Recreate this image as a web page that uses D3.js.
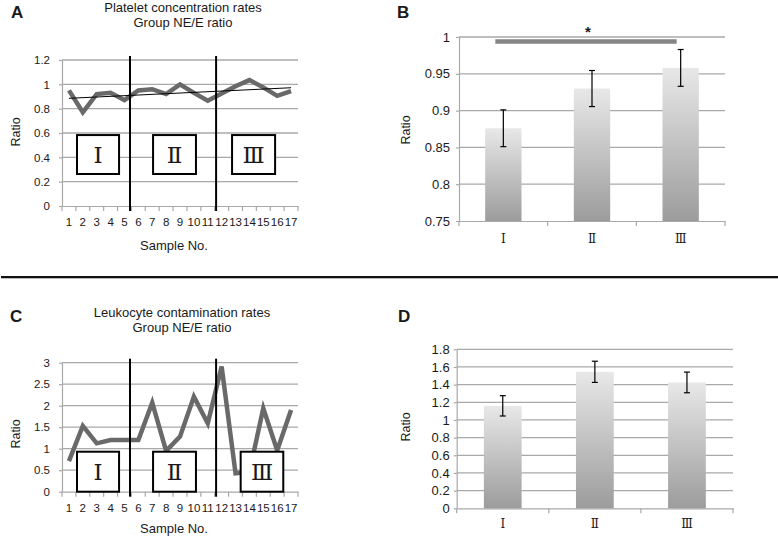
<!DOCTYPE html>
<html><head><meta charset="utf-8">
<script src="https://cdn.jsdelivr.net/npm/d3@7"></script>
<style>
body{margin:0;background:#fff}
svg{display:block}
text{font-family:"Liberation Sans",Arial,Helvetica,sans-serif;fill:#1a1a1a}
.num{font-family:"DejaVu Serif","Liberation Serif",serif}
</style>
</head><body>
<svg id="chart" width="778" height="537"></svg>
<script>
// ---------- DATA ----------
const sampleLabels = ["1","2","3","4","5","6","7","8","9","10","11","12","13","14","15","16","17"];
const plateletRatio = [0.95,0.77,0.92,0.93,0.87,0.95,0.96,0.92,1.00,0.93,0.865,0.925,0.985,1.035,0.975,0.905,0.945];
const plateletTrend = [0.885, 0.972];          // trend line value at sample 1 and sample 17
const leukocyteRatio = [0.71,1.53,1.125,1.20,1.20,1.20,2.07,0.95,1.28,2.21,1.59,2.91,0.43,0.46,1.94,0.96,1.90];
const groupLabels = ["Ⅰ","Ⅱ","Ⅲ"];
const groupDividers = [5.4, 11.6];             // between samples 5|6 and 11|12
const plateletMeans = [0.876, 0.930, 0.958];
const plateletErr   = [0.025, 0.0245, 0.025];
const leukocyteMeans = [1.16, 1.545, 1.425];
const leukocyteErr   = [0.115, 0.12, 0.117];
const ticksA = [0,0.2,0.4,0.6,0.8,1,1.2];
const ticksB = [0.75,0.8,0.85,0.9,0.95,1];
const ticksC = [0,0.5,1,1.5,2,2.5,3];
const ticksD = [0,0.2,0.4,0.6,0.8,1,1.2,1.4,1.6,1.8];
const sigLevel = 0.994, sigLabel = "*";

// ---------- STYLE ----------
const GRID = "#a9a9a9", LINE = "#696969";
const svg = d3.select("#chart");

const defs = svg.append("defs");
const grad = defs.append("linearGradient").attr("id","barGrad").attr("x1",0).attr("y1",0).attr("x2",0).attr("y2",1);
grad.append("stop").attr("offset","0%").attr("stop-color","#e8e8e8");
grad.append("stop").attr("offset","100%").attr("stop-color","#9c9c9c");

function letter(t,x,y){
  svg.append("text").attr("x",x).attr("y",y).attr("font-size",17).attr("font-weight","bold").text(t);
}
function ratioLabel(x,y){
  svg.append("text").attr("transform",`translate(${x},${y}) rotate(-90)`).attr("text-anchor","middle")
    .attr("dy","0.35em").attr("font-size",12.5).text("Ratio");
}
function styleAxis(g){
  g.select(".domain").attr("stroke",GRID).attr("stroke-width",1.2);
  g.selectAll(".tick line").attr("stroke",GRID).attr("stroke-width",1.2);
  g.selectAll("text").attr("fill","#1a1a1a");
}

// ---------- LINE PANEL ----------
function linePanel(o){
  const xb = d3.scaleBand().domain(sampleLabels).range([o.x0,o.x1]);
  const xc = d3.scaleLinear().domain([0.5,17.5]).range([o.x0,o.x1]);
  const y = d3.scaleLinear().domain(o.domain).range([o.yb,o.yt]);
  const g = svg.append("g");
  g.selectAll(".grid").data(o.ticks.slice(1)).join("line")
    .attr("x1",o.x0).attr("x2",o.x1).attr("y1",d=>y(d)).attr("y2",d=>y(d))
    .attr("stroke",GRID).attr("stroke-width",1.3);
  const ya = g.append("g").attr("transform",`translate(${o.x0},0)`)
    .call(d3.axisLeft(y).tickValues(o.ticks).tickSize(3).tickSizeOuter(0).tickPadding(9).tickFormat(d=>String(d)));
  ya.selectAll("text").attr("font-size",11.5);
  styleAxis(ya);
  const xa = g.append("g").attr("transform",`translate(0,${o.yb})`)
    .call(d3.axisBottom(xb).tickSize(0).tickSizeOuter(0).tickPadding(12));
  xa.selectAll("text").attr("font-size",11.5);
  styleAxis(xa);
  const bounds = [0.5].concat(sampleLabels.map((d,i)=>i+1.5));
  g.selectAll(".bt").data(bounds).join("line")
    .attr("x1",d=>xc(d)).attr("x2",d=>xc(d)).attr("y1",o.yb).attr("y2",o.yb+5)
    .attr("stroke",GRID).attr("stroke-width",1.2);
  const line = d3.line().x((d,i)=>xb(sampleLabels[i])+xb.bandwidth()/2).y(d=>y(d));
  g.append("path").datum(o.values).attr("d",line).attr("fill","none")
    .attr("stroke",LINE).attr("stroke-width",4.5).attr("stroke-linejoin","miter");
  if(o.trend){
    g.append("line").attr("x1",xc(1)).attr("x2",xc(17)).attr("y1",y(o.trend[0])).attr("y2",y(o.trend[1]))
      .attr("stroke","#000").attr("stroke-width",1);
  }
  g.selectAll(".div").data(groupDividers).join("line")
    .attr("x1",d=>xc(d)).attr("x2",d=>xc(d)).attr("y1",o.yt-4).attr("y2",o.yb+5)
    .attr("stroke","#000").attr("stroke-width",2);
  o.boxes.forEach((b,i)=>{
    g.append("rect").attr("x",xc(b[0])).attr("y",y(o.boxY[1])).attr("width",xc(b[1])-xc(b[0]))
      .attr("height",y(o.boxY[0])-y(o.boxY[1])).attr("fill","#fff").attr("stroke","#000").attr("stroke-width",2);
    g.append("text").attr("class","num").attr("x",(xc(b[0])+xc(b[1]))/2).attr("y",(y(o.boxY[0])+y(o.boxY[1]))/2)
      .attr("text-anchor","middle").attr("dy","0.36em").attr("font-size",23).text(groupLabels[i]);
  });
  o.title.forEach((t,i)=>{
    svg.append("text").attr("x",o.tx).attr("y",o.ty+i*15).attr("text-anchor","middle").attr("font-size",13).text(t);
  });
  svg.append("text").attr("x",(o.x0+o.x1)/2-6).attr("y",o.sy).attr("text-anchor","middle").attr("font-size",13).text("Sample No.");
}

// ---------- BAR PANEL ----------
function barPanel(o){
  const x = d3.scaleBand().domain(groupLabels).range([o.x0,o.x1]).paddingInner(0.59).paddingOuter(0.295);
  const y = d3.scaleLinear().domain(o.domain).range([o.yb,o.yt]);
  const g = svg.append("g");
  g.selectAll(".grid").data(o.ticks.slice(1)).join("line")
    .attr("x1",o.x0).attr("x2",o.x1).attr("y1",d=>y(d)).attr("y2",d=>y(d))
    .attr("stroke",GRID).attr("stroke-width",1.3);
  const ya = g.append("g").attr("transform",`translate(${o.x0},0)`)
    .call(d3.axisLeft(y).tickValues(o.ticks).tickSize(3).tickSizeOuter(0).tickPadding(o.pad).tickFormat(d=>String(d)));
  ya.selectAll("text").attr("font-size",13);
  styleAxis(ya);
  const xa = g.append("g").attr("transform",`translate(0,${o.yb})`)
    .call(d3.axisBottom(x).tickSize(0).tickSizeOuter(0).tickPadding(o.xpad));
  xa.selectAll("text").attr("class","num").attr("font-size",12);
  styleAxis(xa);
  const step = x.step();
  g.selectAll(".bt").data(d3.range(groupLabels.length+1)).join("line")
    .attr("x1",d=>o.x0+d*step).attr("x2",d=>o.x0+d*step).attr("y1",o.yb).attr("y2",o.yb+5)
    .attr("stroke",GRID).attr("stroke-width",1.2);
  g.selectAll(".bar").data(o.means).join("rect")
    .attr("x",(d,i)=>x(groupLabels[i])).attr("width",x.bandwidth())
    .attr("y",d=>y(d)).attr("height",d=>o.yb-y(d)).attr("fill","url(#barGrad)");
  o.means.forEach((m,i)=>{
    const cx = x(groupLabels[i])+x.bandwidth()/2;
    const t = y(m+o.err[i]), b = y(m-o.err[i]);
    g.append("line").attr("x1",cx).attr("x2",cx).attr("y1",t).attr("y2",b).attr("stroke","#000").attr("stroke-width",1.2);
    [t,b].forEach(v=>g.append("line").attr("x1",cx-3).attr("x2",cx+3).attr("y1",v).attr("y2",v).attr("stroke","#000").attr("stroke-width",1.2));
  });
  if(o.sig){
    const c0 = x(groupLabels[0])+x.bandwidth()/2, c2 = x(groupLabels[2])+x.bandwidth()/2;
    g.append("line").attr("x1",c0-8).attr("x2",c2-4).attr("y1",y(sigLevel)).attr("y2",y(sigLevel))
      .attr("stroke","#858585").attr("stroke-width",4.5);
    g.append("text").attr("x",(c0+c2)/2-4).attr("y",y(sigLevel)-4).attr("text-anchor","middle")
      .attr("font-size",15).attr("font-weight","bold").text(sigLabel);
  }
}

// ---------- PANELS ----------
letter("A",11,18);
ratioLabel(16,132);
linePanel({x0:62,x1:298,yb:206,yt:60,domain:[0,1.2],ticks:ticksA,values:plateletRatio,trend:plateletTrend,
  boxes:[[1.58,4.61],[7.06,10.15],[12.75,15.85]],boxY:[0.263,0.583],
  title:["Platelet concentration rates","Group NE/E ratio"],tx:183,ty:11.5,sy:250});

letter("B",397,18);
ratioLabel(406,130);
barPanel({x0:459,x1:725,yb:221,yt:37,domain:[0.75,1],ticks:ticksB,means:plateletMeans,err:plateletErr,pad:6,xpad:13,sig:true});

svg.append("line").attr("x1",1).attr("x2",778).attr("y1",278).attr("y2",278).attr("stroke","#bbb").attr("stroke-width",2);
svg.append("line").attr("x1",1).attr("x2",778).attr("y1",277).attr("y2",277).attr("stroke","#111").attr("stroke-width",2.2);

letter("C",10,322);
ratioLabel(16,434);
linePanel({x0:62,x1:298,yb:491.7,yt:362.7,domain:[0,3],ticks:ticksC,values:leukocyteRatio,trend:null,
  boxes:[[1.58,4.61],[7.06,10.15],[13.37,16.44]],boxY:[0,0.93],
  title:["Leukocyte contamination rates","Group NE/E ratio"],tx:182,ty:317,sy:533});

letter("D",398,322);
ratioLabel(406,427);
barPanel({x0:456.7,x1:733,yb:508.3,yt:349.3,domain:[0,1.8],ticks:ticksD,means:leukocyteMeans,err:leukocyteErr,pad:4,xpad:11,sig:false});
</script>
</body></html>
